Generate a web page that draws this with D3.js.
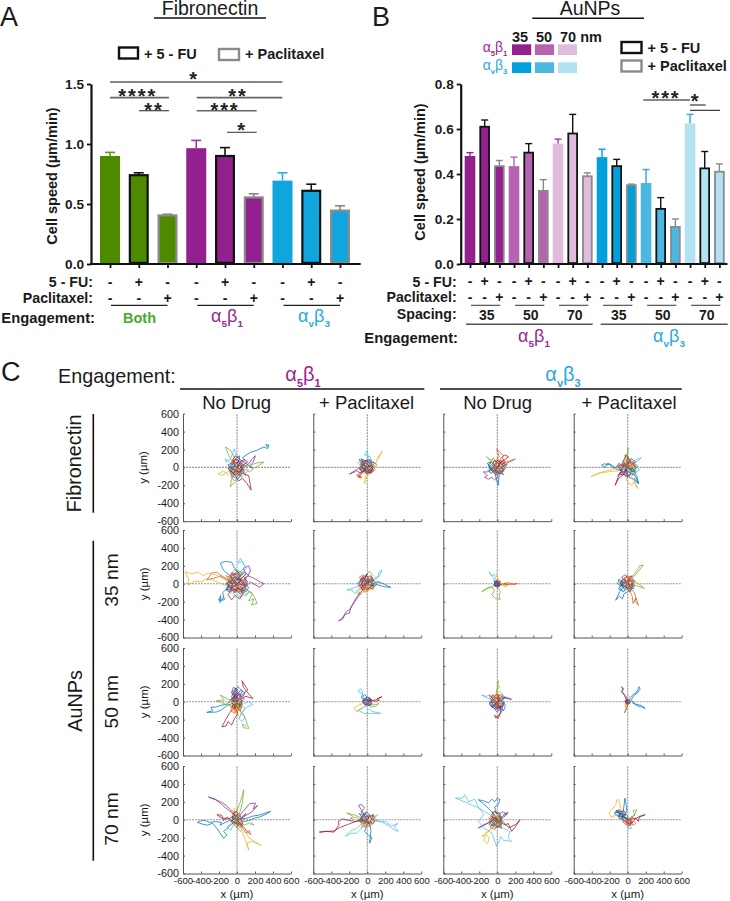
<!DOCTYPE html>
<html><head><meta charset="utf-8">
<script src="https://cdnjs.cloudflare.com/ajax/libs/d3/7.8.5/d3.min.js"></script>
<style>html,body{margin:0;padding:0;background:#fff}svg{display:block}text{font-family:"Liberation Sans",Arial,sans-serif;fill:#1a1a1a}</style>
</head><body><svg id="c" width="730" height="901"></svg>
<script>
// ---------- Panel A ----------
const aValues=[0.90,0.74,0.405,0.965,0.90,0.555,0.695,0.61,0.445];
const aErrTop=[0.93,0.76,0.415,1.03,0.97,0.585,0.76,0.665,0.485];
const aFill=["#4e8a00","#4e8a00","#4e8a00","#92208f","#92208f","#92208f","#10a5dc","#10a5dc","#10a5dc"];
const aErrCol=["#5f9a10","#111","#888","#a8359f","#111","#888","#29b0e2","#111","#888"];
const aTicks=[0,0.5,1,1.5];
// ---------- Panel B ----------
const bValues=[.48,.61,.435,.435,.495,.325,.535,.58,.39,.475,.435,.35,.36,.245,.165,.625,.425,.41];
const bErrTop=[.495,.64,.46,.475,.535,.375,.555,.665,.405,.51,.465,.355,.42,.295,.2,.665,.5,.445];
const bFill=["#92208f","#92208f","#92208f","#b565b0","#b565b0","#b565b0","#e0bcdf","#e0bcdf","#e0bcdf","#00a0dc","#00a0dc","#00a0dc","#4cb8e2","#4cb8e2","#4cb8e2","#b3e2f3","#b3e2f3","#b3e2f3"];
const bErrCtl=["#92208f","#b565b0","#a03aa0","#00a0dc","#2aa9dd","#2aa9dd"];
const bTicks=[0,0.2,0.4,0.6,0.8];
const bSpacing=["35","50","70","35","50","70"];
const fuSigns=["-","+","-"];
const pacSigns=["-","-","+"];
const drugBorder=[null,"#111","#8a8a8a"];
// ---------- Panel C tick labels ----------
const tickVals=[-600,-400,-200,0,200,400,600];
const colNames=["No Drug","+ Paclitaxel","No Drug","+ Paclitaxel"];
const trackColors=["#0072BD","#D95319","#EDB120","#7E2F8E","#77AC30","#4DBEEE","#A2142F"];
const coreColors=["#A2142F","#0072BD","#D95319"];
// ---------- Panel C cell tracks (um); slot order follows trackColors ----------
const fnA5None=[
[0,0,40,30,90,80,60,110,150,170,220,190,300,230,340,210,355,250,320,255,345,225],
[0,0,-30,-20,-60,-40,-100,-10,-70,-60,-30,-90,10,-60,50,-110,20,-40,-20,-70,-50,10],
[0,0,-60,-30,-120,-60,-170,-90,-210,-70,-150,-40,-100,-90,-60,-50,-20,-30,20,-70],
[0,0,40,30,80,10,130,40,170,100,205,130,180,60,150,20,170,-10,120,30,70,70],
[0,0,-50,60,-90,130,-130,230,-70,190,-30,110,-60,40,-20,-50,-60,-130,-75,-216,-20,-160,30,-110],
[0,0,-70,40,-130,100,-120,60,-70,100,-30,210,-10,140,30,90,-10,40,-60,-20],
[0,0,50,-30,90,-80,130,-90,157,-254,110,-180,60,-120,20,-150,-20,-90,-50,-50],
[0,0,-40,50,-10,110,30,130,20,60,-30,20,-80,-20,-60,-90,-10,-120,30,-70,60,-30],
[0,0,60,-20,30,-60,-30,-40,-70,-100,-30,-150,20,-110,60,-60,100,-90,70,-20,20,30],
[0,0,-50,-50,-90,-20,-70,30,-30,70,10,30,50,80,90,40,60,-10,10,-40],
[0,0,30,50,-20,90,-50,50,-100,30,-70,-10,-20,-30,30,-10,70,30,120,60,80,90,30,60],
[0,0,40,-40,90,-20,140,-50,190,-10,300,60,220,50,160,30,100,10,50,40,10,10],
[0,0,-20,-60,30,-90,70,-60,40,-20,90,10,130,-30,90,-70,50,-100,0,-70],
[0,0,20,40,60,70,20,100,-20,130,-50,80,-10,50,30,20,60,-20,20,-50,-30,-20],
];
const fnA5NoneCore=[
[0,0,20,25,-5,50,25,70,0,95,-30,80,-20,45,-55,35,-80,10,-50,-15,-70,-45,-35,-60,-15,-35,15,-50,40,-30,65,-5,40,15],
[0,0,-25,15,-45,-10,-70,15,-95,-5,-75,-35,-50,-55,-25,-85,5,-70,30,-90,55,-65,35,-40,70,-25,50,5,75,30,45,45,15,30],
[0,0,15,-25,-15,-45,10,-65,35,-50,55,-75,80,-50,60,-20,85,5,60,30,35,15,10,40,-20,60,-45,85,-65,55,-40,30],
];
const fnA5Pac=[
[0,0,-30,30,-70,50,-40,80,0,50,30,90,50,40,20,0,60,-20,30,-50,-10,-20],
[0,0,-40,-30,-70,-70,-97,-97,-60,-110,-100,-80,-75,-120,-120,-90,-90,-70,-50,-50,-20,-20,-100,-110,-70,-100],
[0,0,20,-50,-20,-90,-30,-180,-10,-110,30,-70,0,-30,60,-10,90,30,110,100,165,183,120,90],
[0,0,-50,-20,-100,-10,-140,-50,-198,-75,-130,-30,-80,-60,-40,-30,-10,-70,40,-40],
[0,0,40,20,80,0,110,30,70,60,30,40,-10,70,-40,30,-80,40,-50,-10],
[0,0,-20,50,10,110,0,190,-30,140,30,120,50,70,10,40,-40,90,-70,70,-30,20],
[0,0,-50,30,-90,-10,-60,-50,-20,-30,30,-60,70,-30,40,10,-10,40,-60,60],
[0,0,30,50,-10,80,-50,60,-90,90,-60,30,-20,20,20,-30,50,10,80,50,40,70],
[0,0,-40,-50,10,-70,60,-50,90,-20,50,20,0,-20,-40,10,-80,-30,-40,-70],
[0,0,-70,10,-110,50,-60,70,-20,40,20,70,60,30,30,-10],
[0,0,50,40,20,90,-30,70,-70,100,-40,50,-80,10,-40,-20,10,-50,50,-20],
];
const fnA5PacCore=[
[0,0,15,20,-10,40,15,60,-15,75,-40,55,-30,25,-60,15,-45,-15,-20,-5,-30,-35,0,-45,20,-25,45,-40,60,-15,40,10],
[0,0,-20,10,-35,-15,-60,0,-75,-25,-50,-45,-25,-35,-10,-65,15,-50,35,-70,55,-45,40,-20,65,0,45,25,20,15],
[0,0,10,-20,-15,-30,5,-50,30,-35,50,-55,70,-30,50,-5,70,20,45,35,25,15,5,35,-20,50,-45,30],
];
const fnA3None=[
[0,0,30,40,70,20,110,40,80,-10,40,-40,70,-80,20,-60,-20,-30,-50,20,-20,50],
[0,0,-20,70,20,120,-7,205,30,170,70,130,30,90,60,40,100,60,200,93,130,60,80,30],
[0,0,40,-40,10,-90,-40,-60,-10,-20,30,20,70,-20,40,60,0,90],
[0,0,-60,-20,-110,-50,-155,-50,-110,-90,-140,-110,-100,-130,-60,-110,-30,-140,10,-100,-40,-60],
[0,0,-50,40,-90,90,-120,120,-70,80,-40,110,-90,30,-50,-30,-10,-10,30,-60],
[0,0,30,20,60,-40,20,-70,-30,-40,-70,-70,-110,-30,-70,0,-30,40],
[0,0,40,60,90,90,125,120,80,140,50,110,90,60,50,30,20,70,-20,40],
[0,0,-40,-40,-80,-20,-100,30,-60,60,-110,50,-70,-20,-30,-60,10,-200,20,-90,50,-50],
[0,0,50,10,80,60,40,80,0,50,-30,90,-50,50,-20,10,30,-20],
[0,0,-30,30,-70,10,-40,-30,0,-60,40,-30,20,10,60,30,90,-10],
[0,0,-20,-50,30,-70,70,-40,50,0,90,30,60,60,20,40,-10,70],
];
const fnA3NoneCore=[
[0,0,25,15,10,40,35,60,10,85,-15,60,-35,75,-50,45,-25,25,-50,0,-75,-20,-50,-45,-25,-25,0,-50,25,-30,50,-50,70,-20,45,5],
[0,0,-15,20,-40,10,-60,35,-85,15,-70,-15,-95,-40,-65,-60,-40,-35,-15,-60,10,-75,30,-50,15,-25,45,-5,70,20,50,40],
[0,0,20,-20,45,-10,65,15,90,-5,75,-35,50,-55,25,-40,0,-65,-25,-75,-45,-50,-30,-25,-55,-10,-35,20,-10,35],
];
const fnA3Pac=[
[0,0,-50,10,-100,30,-150,-10,-200,30,-260,40,-290,25,-250,0,-220,50,-170,20,-110,-30,-50,-20,20,-60,80,-90,120,-180,70,-120],
[0,0,40,-30,80,20,40,60,0,30,-40,-20,10,-60,50,-40,90,-10,60,40],
[0,0,-60,-30,-140,-40,-220,-50,-300,-60,-410,-105,-340,-70,-280,-50,-200,-30,-120,-10,-60,30,-20,100,-40,140,10,90,40,40,20,-40,-30,-90],
[0,0,50,40,90,60,40,100,20,60,-30,40,10,-20,60,-50,100,0,70,30],
[0,0,20,70,0,130,5,220,-10,140,30,90,60,50,110,20,70,-30,20,-10],
[0,0,50,30,110,70,155,110,100,90,60,60,100,20,130,-30,80,-50,40,-10],
[0,0,-40,-50,-90,-60,-140,-200,-100,-120,-60,-90,-20,-60,20,-100,40,-30,0,30,30,80,-10,100],
[0,0,60,-40,100,-90,120,-180,60,-130,20,-110,-40,-80,-80,-30,-40,20],
[0,0,-30,-60,-80,-30,-40,30,20,-20,60,20,30,70,-20,50,-70,20],
[0,0,30,-80,60,-130,112,-235,70,-160,40,-200,-10,-150,-30,-80,10,-30],
[0,0,-60,40,-110,10,-70,-50,-110,-90,-50,-70,0,-110,-30,-30,20,20],
[0,0,40,50,0,80,-40,60,-20,20,30,-30,60,-70,90,-30,50,10],
[0,0,-20,60,20,90,-10,130,-50,70,-80,20,-40,-30,-10,-70,30,-40,10,20],
];
const fnA3PacCore=[
[0,0,-20,25,5,50,-15,80,5,110,-20,140,-35,95,-55,70,-35,35,-65,15,-90,-10,-65,-35,-85,-70,-55,-85,-35,-55,-10,-40,-25,-10],
[0,0,25,-20,50,-5,70,-30,90,-60,65,-85,40,-65,15,-90,-10,-70,5,-40,-25,-25,-45,-50,-70,-30,-50,-5,-25,15],
[0,0,25,25,50,10,75,35,60,65,35,50,15,75,-10,55,5,30,-25,20,-50,40,-75,25,-95,50,-115,25,-85,0],
];
const b35A5None=[
[0,0,-40,60,-90,100,-150,150,-186,228,-130,250,-60,240,-30,180,10,130,50,90,0,40,-50,-10,-120,-60,-160,-100,-140,-180,-205,-183,-180,-130,-190,-210,-150,-150],
[0,0,-50,10,-110,50,-170,90,-230,70,-335,40,-280,120,-220,130,-170,80,-120,40,-60,60,-20,10,40,-40,70,-100,30,-160],
[0,0,-80,30,-160,60,-240,100,-320,120,-380,90,-430,130,-500,110,-578,135,-540,60,-540,-15,-470,30,-400,20,-330,60,-270,40,-200,10,-120,-20],
[0,0,50,60,100,110,70,170,130,200,150,150,120,90,190,60,240,30,300,0,250,-40,200,-10,150,20,100,-30,50,10],
[0,0,60,-60,100,-120,150,-90,190,-140,224,-220,160,-235,190,-170,130,-190,170,-110,100,-60,40,-90,-10,-40],
[0,0,10,80,50,150,90,190,37,283,10,230,60,250,100,170,40,120,-20,170,-60,100,-10,50,-70,10],
[0,0,20,-60,70,-110,30,-170,-20,-130,-60,-180,-100,-120,-60,-70,-100,-20,-50,30,0,-20],
[0,0,-40,-40,-80,-10,-120,-50,-70,-90,-30,-60,20,-100,60,-50,100,-90,130,-40,80,0,40,50,-10,90,-50,50],
[0,0,60,30,110,70,70,110,20,80,-30,120,-70,70,-120,90,-80,30,-130,0,-70,-40,-20,-20],
[0,0,-20,-70,30,-110,-10,-150,-60,-110,-90,-60,-40,-30,0,-90,40,-50,90,-20,50,20],
[0,0,70,-20,120,20,80,60,130,90,90,130,40,100,0,140,-40,90,0,50],
[0,0,-30,40,-70,0,-110,40,-60,80,-20,60,20,110,-20,150,60,130,30,70,70,30,30,-20],
[0,0,40,-80,90,-40,130,-80,100,-140,50,-110,10,-160,-40,-100,-10,-50,50,-20],
[0,0,-70,-50,-30,-90,20,-50,60,-90,100,-40,60,0,110,40,70,80,20,40,-30,70],
];
const b35A5NoneCore=[
[0,0,30,25,5,55,35,85,5,115,-30,95,-55,125,-80,85,-50,60,-80,30,-110,10,-85,-20,-110,-55,-75,-70,-50,-40,-20,-65,10,-45,40,-70,70,-45,95,-15,65,15],
[0,0,-30,20,-60,-5,-85,25,-115,0,-95,-40,-125,-70,-85,-90,-55,-65,-30,-100,5,-85,35,-110,65,-85,45,-50,85,-35,115,-10,95,30,60,50,30,30],
[0,0,20,-35,-15,-60,15,-90,50,-70,75,-100,105,-70,80,-35,110,0,80,35,50,15,20,50,-15,75,-50,105,-80,70,-55,35,-25,15],
[0,0,-20,-30,15,-50,-10,-80,-45,-60,-70,-35,-40,-10,-75,15,-50,50,-15,30,10,60,40,40,25,5,60,-15,35,-40],
];
const b35A5Pac=[
[0,0,-30,-40,-70,-20,-50,30,-10,60,30,30,60,-20,20,-60,-20,-90,-60,-60],
[0,0,30,-30,70,-10,40,40,0,20,-50,60,-20,-10,20,-60,-40,-70],
[0,0,-40,-40,-80,-70,-120,-100,-70,-120,-30,-60,10,-40,60,-70,90,-20,130,20,90,40,40,10],
[0,0,-50,-60,-90,-130,-140,-200,-180,-260,-200,-330,-250,-340,-290,-400,-320,-414,-270,-390,-240,-320,-190,-280,-130,-170,-80,-90],
[0,0,30,60,60,100,20,140,-10,90,-40,50,20,10,70,40,100,-10,60,-50],
[0,0,-70,-10,-130,-40,-227,-70,-170,-70,-140,-110,-100,-60,-40,-40,50,50,110,60,140,100,164,153,120,120,130,80,80,70],
[0,0,-30,50,0,110,-40,80,-80,30,-40,-10,20,20,60,70,30,90],
[0,0,50,-20,110,-10,170,-30,261,-41,190,-5,130,20,70,10,30,-40],
[0,0,-50,30,-90,70,-50,100,-10,60,30,90,70,50,30,10,-20,-30,-70,-10],
[0,0,20,-70,-30,-100,-70,-60,-100,-20,-60,10,-20,-40,30,-60,60,-20],
[0,0,-40,60,-80,40,-110,0,-70,-40,-30,-20,0,30,40,60,80,30],
];
const b35A5PacCore=[
[0,0,20,20,-5,45,20,70,-10,90,-35,65,-55,80,-70,45,-45,25,-70,-5,-45,-25,-70,-50,-40,-70,-20,-40,5,-60,30,-40,55,-60,70,-30,45,-5],
[0,0,-25,-15,-50,5,-75,-20,-90,10,-60,30,-35,55,-10,30,15,55,40,30,65,45,50,15,75,-10,50,-30,25,-15],
[0,0,15,-30,-10,-55,-35,-35,-60,-55,-85,-30,-60,-10,-35,10,-15,-15,10,5,35,-15,60,5,40,30],
];
const b35A3None=[
[0,0,-20,10,-40,-10,-15,-25,10,-10,30,-30,0,-15,-30,10,-10,30,15,15],
[0,0,30,-10,70,0,120,-10,80,5,140,10,190,-10,224,4,170,-5,110,-15,50,-5,15,-20],
[0,0,20,-20,60,-15,100,-40,60,-5,30,20,10,50,-10,100,5,60,-10,25],
[0,0,-15,25,-30,5,-10,-20,15,10,-5,35,-25,20],
[0,0,-40,-30,-90,-45,-175,-90,-120,-50,-70,-35,-30,-70,-60,-125,-20,-165,30,-175,20,-130,35,-90,10,-50,-10,-20],
[0,0,-20,30,-50,70,-93,134,-60,90,-35,110,-20,60,-40,30,-5,15],
[0,0,15,-15,5,-40,-20,-30,-30,-5,-5,15,20,5,25,-25],
];
const b35A3NoneCore=[
[0,0,10,15,-5,25,-20,15,-35,25,-25,0,-40,-15,-20,-25,-5,-10,15,-25,30,-10,20,10,35,25,10,35],
[0,0,-15,10,-25,-10,-10,-30,10,-35,25,-20,40,-5,20,15,5,30,-15,35,-30,25],
];
const b35A3Pac=[
[0,0,-50,-40,-90,-90,-134,-183,-90,-140,-60,-170,-40,-110,0,-90,40,-50,0,-10,-60,30,-100,50,-110,0,-70,-40],
[0,0,30,-50,70,-90,119,-239,80,-200,90,-160,60,-220,50,-140,20,-80,-20,-40],
[0,0,-40,20,-70,-20,-40,-60,0,-40,40,-80,20,-20,50,20,20,60,-20,40],
[0,0,-30,40,-70,70,-30,100,10,70,50,90,20,40,-20,10,-60,-20,-90,10,-50,50],
[0,0,40,50,80,90,110,130,175,209,130,200,110,160,80,120,40,60,90,20,186,-52,120,-30,60,-10],
[0,0,-50,10,-90,30,-60,-40,-100,-60,-40,-80,-10,-30,30,-50,60,-10,20,30],
[0,0,30,-30,60,10,20,50,-20,20,-50,50,-80,10,-40,-30,10,-50],
[0,0,-30,-30,-70,-10,-100,-50,-50,-90,-10,-60,30,-90,50,-30,20,0],
[0,0,50,-20,80,30,40,70,0,90,-40,60,-10,20,30,-10],
[0,0,-40,50,0,80,40,50,70,0,30,-50,-20,-70,-50,-30],
];
const b35A3PacCore=[
[0,0,20,20,-5,40,20,60,-10,75,-35,55,-25,25,-55,10,-70,-20,-45,-35,-25,-15,-5,-45,20,-30,45,-50,60,-20,35,0],
[0,0,-20,15,-45,-5,-65,20,-85,-5,-60,-30,-35,-55,-10,-35,15,-60,40,-40,60,-60,75,-25,50,5,70,30,40,40],
[0,0,15,-25,-10,-45,15,-65,40,-45,25,-20,50,-5,35,25,10,45,-15,30,-40,50,-60,25,-35,5],
];
const b50A5None=[
[0,0,-50,-20,-110,-40,-170,-90,-230,-115,-335,-119,-270,-100,-290,-60,-240,-60,-180,-40,-120,-30,-60,20,-20,70,10,130,-20,150,-40,90,10,40],
[0,0,-20,60,-60,110,-10,130,30,80,-20,30,-50,-30,-10,-80,40,-40,60,20],
[0,0,-40,-60,-10,-120,30,-180,50,-120,20,-70,-30,-30,-60,20,-20,60],
[0,0,-30,50,-60,100,-40,160,0,140,-30,90,10,50,-30,10,20,-20],
[0,0,-50,10,-100,30,-186,75,-140,20,-230,10,-170,-10,-120,-30,-60,-50,0,-20,40,-110,90,-180,130,-298,70,-290,60,-250,100,-270],
[0,0,40,-40,90,-70,60,-120,90,-170,60,-220,20,-190,50,-120,110,-60,175,-30,130,0,80,-20],
[0,0,-30,-70,-80,-120,-120,-190,-168,-280,-120,-270,-100,-220,-60,-260,-30,-190,10,-130,-30,-50,20,20,70,90,120,130,56,235,70,160,120,100,175,37,100,60,40,30],
[0,0,30,60,60,120,10,170,-30,120,-60,60,-30,0,20,-50,60,-10],
[0,0,-50,-40,-70,-100,-20,-130,20,-90,-20,-40,40,-20,80,30,40,70],
[0,0,20,-70,-20,-120,-60,-70,-100,-30,-50,20,-10,-30,30,-80,60,-30],
[0,0,-30,40,20,80,60,50,90,100,40,130,0,80,-50,50,-80,10],
[0,0,30,-60,-10,-100,-50,-60,-20,-20,30,10,60,-30,30,-90],
];
const b50A5NoneCore=[
[0,0,15,25,-10,50,15,75,-5,105,-30,85,-20,55,-50,45,-35,15,-60,-10,-40,-35,-60,-60,-30,-75,-10,-50,15,-70,35,-45,25,-15,50,10,30,35],
[0,0,-20,20,-40,0,-55,30,-30,50,-10,80,20,100,45,80,30,50,55,30,40,0,60,-25,35,-45,10,-25,-15,-50,-35,-25],
[0,0,10,-30,-15,-60,-35,-90,-10,-110,15,-85,35,-105,50,-70,30,-40,55,-15,25,10,0,35,-25,20,-45,45,-65,15],
];
const b50A5Pac=[
[0,0,-40,20,-70,50,-30,80,10,40,50,20,20,-10,-30,-30],
[0,0,30,20,60,-20,20,-40,-20,-20,-50,10,-20,40,30,50],
[0,0,-50,-20,-100,-40,-150,-70,-120,-110,-90,-90,-115,-112,-60,-80,-20,-40,30,-30],
[0,0,-20,30,-50,-10,-20,-40,20,-20,40,30,0,50,-40,30],
[0,0,40,-40,90,-30,130,-20,90,-50,40,-60,0,-30],
[0,0,-40,50,-70,100,-100,110,-97,130,-70,145,-50,100,-60,60,-30,25,20,-30,-40,-60,-100,-95,-40,-130,50,-130,150,-130,60,-110,10,-80],
[0,0,40,10,90,20,130,40,164,56,110,35,135,15,80,5,40,25,-10,15],
];
const b50A5PacCore=[
[0,0,15,15,-5,30,-25,15,-40,30,-55,5,-30,-15,-15,-35,10,-20,30,-35,45,-10,25,15,45,30],
[0,0,-15,-15,-35,-5,-45,20,-20,35,5,20,25,40,40,15,25,-10,45,-25,20,-45,-5,-30],
];
const b50A3None=[
[0,0,-30,-30,-60,-60,-20,-80,20,-50,50,-70,70,-20,30,10,-10,-20,-50,10,-20,50,30,30],
[0,0,40,10,70,-30,30,-60,-10,-30,-40,10,0,40,30,10],
[0,0,-40,30,-70,0,-40,-50,-10,-20,30,-40,60,0,20,30,-10,60],
[0,0,50,30,100,50,160,26,90,40,50,60,10,30,-40,50,-70,20,-30,-20,-60,-60,-20,-30],
[0,0,10,50,-5,110,11,235,0,190,25,170,-10,120,20,60,-30,30,-60,-20],
[0,0,-50,20,-110,40,-175,75,-120,60,-80,80,-50,30,-90,-10,-40,-40,10,-10],
[0,0,20,-50,40,-100,11,-186,-30,-150,-20,-180,30,-140,60,-90,10,-60,-20,-20,30,30],
[0,0,-40,-40,0,-90,40,-60,70,-100,90,-40,50,20,90,50,40,80,-10,50],
[0,0,30,40,-10,70,-50,50,-90,70,-60,10,-90,-30,-50,-60,-10,-30],
[0,0,-60,-10,-20,40,20,80,-20,100,40,110,70,60,30,20],
[0,0,50,-30,20,-70,-30,-70,-10,-110,40,-90,20,-40,-20,-10],
];
const b50A3NoneCore=[
[0,0,20,20,0,45,25,65,-5,85,-30,65,-50,80,-65,45,-40,25,-70,5,-50,-20,-75,-45,-45,-65,-20,-40,5,-65,30,-45,55,-65,70,-30,45,-5],
[0,0,-25,10,-45,-15,-70,5,-85,-25,-60,-50,-30,-30,-10,-60,15,-85,40,-60,60,-40,80,-10,55,15,75,40,45,50,20,30],
[0,0,15,-25,-10,-40,15,-60,35,-35,20,-10,45,15,25,40,0,25,-20,50,-45,30,-30,5],
];
const b50A3Pac=[
[0,0,20,30,40,60,70,90,100,100,125,168,138,140,110,100,60,60,40,20,80,-30,120,-50,160,-60,194,-75,150,-40,100,-30,50,-10],
[0,0,-10,-25,-25,-50,-15,-80,-37,-123,-20,-90,-5,-60,5,-25],
[0,0,20,20,30,50,5,70,-15,40,-25,-10,-30,-40,-10,-70,-20,-30,10,-15],
[0,0,-20,30,-35,70,-67,105,-50,130,-67,168,-45,145,-70,125,-40,85,-15,50,0,15],
[0,0,15,15,-5,30,-20,10,-5,-15,15,-5],
[0,0,-15,-10,-25,10,-5,25,15,10],
[0,0,10,-10,-10,-20,-20,0,5,10],
];
const b50A3PacCore=[
[0,0,8,12,-5,20,-15,8,-25,18,-30,-5,-15,-15,0,-25,12,-12,25,-20,28,5,15,15],
[0,0,-10,-8,-20,-18,-5,-30,12,-22,20,-5,30,10,15,22,-3,28,-15,25],
];
const b70A5None=[
[0,0,-40,-20,-80,-10,-130,-30,-190,-60,-170,-30,-240,-20,-300,-30,-350,-10,-400,-10,-440,-30,-380,-50,-330,-60,-270,-40,-220,-100,-150,-205,-110,-170,-150,-130,-90,-80,-40,-30],
[0,0,-20,30,10,70,-30,100,-50,50,-20,0,20,-50,-10,-90,30,-60],
[0,0,20,-50,50,-110,130,-335,110,-260,170,-240,268,-287,190,-240,130,-200,90,-100,40,-60],
[0,0,-30,60,-70,110,-120,160,-180,200,-317,254,-240,230,-170,170,-110,120,-60,80,-20,40],
[0,0,20,50,40,110,60,190,75,335,50,240,30,180,0,110,-20,50,30,-30,80,-60,130,-40,190,-60,150,-20],
[0,0,30,-40,70,-80,40,-130,0,-90,-40,-50,-70,-120,-110,-80,-60,-30],
[0,0,-50,30,-100,10,-170,20,-224,56,-170,50,-150,-10,-110,30,-60,-10,-10,-40,50,20,100,70,60,30],
[0,0,60,10,120,20,170,40,240,50,300,70,373,93,320,60,250,30,200,20,130,-10,70,-20],
[0,0,40,-50,80,-90,150,-167,140,-120,100,-150,70,-100,30,-60,-10,-30],
[0,0,-20,60,-60,90,-30,130,10,100,-30,60,-70,30,-30,-10,20,30],
[0,0,40,60,90,120,140,180,205,186,180,120,230,160,170,90,100,50,40,10],
[0,0,-30,-60,10,-100,50,-70,20,-20,-30,-50,-60,-10,-20,40],
];
const b70A5NoneCore=[
[0,0,15,25,-10,45,15,70,-10,95,-35,75,-25,45,-55,30,-40,0,-65,-20,-40,-45,-15,-25,5,-55,30,-35,50,-60,65,-25,40,0],
[0,0,-20,15,-45,0,-55,30,-30,50,-5,35,15,60,40,45,30,15,55,-10,30,-30,10,-15,-15,-40,-35,-15],
[0,0,10,-25,-15,-45,5,-70,30,-55,50,-80,70,-50,50,-20,75,5,50,30,25,15,0,35],
];
const b70A5Pac=[
[0,0,30,-60,40,-120,26,-261,50,-200,10,-170,-30,-130,-10,-70,30,-30],
[0,0,-30,20,-70,-10,-40,-50,0,-30,50,-20,90,30,50,50,0,30],
[0,0,40,20,80,40,119,56,70,10,110,-10,50,-30,10,-10],
[0,0,-30,50,-60,100,-97,160,-60,170,-30,130,-70,90,-40,50,-10,80,-50,20],
[0,0,-70,20,-130,50,-227,75,-160,40,-190,10,-120,30,-70,-10,-30,-40],
[0,0,-60,-40,-120,-100,-180,-120,-246,-186,-180,-150,-120,-150,-60,-90,60,-10,130,-20,200,-20,270,-70,343,-40,300,-70,343,-130,290,-110,230,-60,150,-20,70,10],
[0,0,-60,-10,-120,-20,-190,-10,-280,10,-320,-19,-315,-60,-370,-138,-450,-130,-533,-138,-450,-130,-370,-125,-310,-90,-210,-50,-130,-20,-60,10],
[0,0,30,50,-10,90,-50,50,-90,70,-50,10,-20,-30,30,-50],
[0,0,-40,-50,-90,-20,-60,30,-20,60,30,30,70,60,40,0],
[0,0,50,-30,20,-80,-30,-60,-70,-90,-60,-40,-20,-10],
];
const b70A5PacCore=[
[0,0,20,20,-5,40,-30,25,-50,45,-75,20,-50,-5,-30,-30,-5,-15,15,-40,40,-25,60,-50,80,-20,60,10,35,25],
[0,0,-20,-20,-45,-5,-70,-30,-90,0,-60,25,-35,50,-10,30,15,55,40,35,60,55,75,25,50,0,25,-20],
[0,0,15,-30,-10,-55,-35,-40,-55,-65,-25,-80,0,-60,25,-75,45,-50,25,-20,50,5],
];
const b70A3None=[
[0,0,-30,50,-70,100,-120,150,-212,224,-150,210,-100,190,-60,230,-30,200,0,240,30,224,10,170,-30,140,-10,80,20,40,-20,-20],
[0,0,-30,-30,-60,-10,-40,-70,0,-50,30,-90,50,-30,10,-10],
[0,0,-30,-70,-70,-100,-110,-130,-175,-186,-130,-170,-150,-230,-108,-268,-90,-200,-130,-160,-60,-100,-20,-40],
[0,0,-50,-10,-110,-40,-160,-70,-212,-93,-160,-60,-90,-30,-40,20,10,-20],
[0,0,-20,-60,30,-90,50,-40,10,10,-40,30,-80,0,-40,-40],
[0,0,-70,50,-140,90,-200,130,-280,160,-340,190,-466,242,-390,240,-360,280,-320,200,-250,230,-210,140,-150,60,-210,-20,-150,-90,-60,-150,-7,-298,40,-190,70,-230,160,-242,120,-200,140,-130,60,-90],
[0,0,40,-30,90,-60,120,-40,160,-130,200,-80,253,0,210,-50,130,-90,70,-30,30,20,120,80,70,60],
[0,0,60,20,110,60,60,90,20,60,-30,90,-70,50,-30,10],
[0,0,-40,-40,-80,-80,-30,-110,10,-70,50,-100,40,-40,0,-10],
[0,0,30,40,-10,70,-60,50,-100,20,-50,-20,0,-50,40,-20],
[0,0,-50,30,-90,-20,-60,-60,-20,-90,30,-50,-10,-10],
[0,0,20,-40,-20,-70,-60,-40,-40,10,10,30,50,-10,30,-60],
];
const b70A3NoneCore=[
[0,0,-15,25,-40,10,-60,35,-35,55,-55,80,-25,95,-5,65,15,85,35,60,20,30,45,10,30,-20,5,-40,-20,-20,-45,-40],
[0,0,-25,-15,-50,0,-70,-25,-90,-55,-60,-70,-35,-45,-15,-70,10,-85,30,-55,50,-30,30,-5,55,20,35,45],
[0,0,10,-25,-15,-50,-40,-30,-60,-5,-85,15,-60,40,-35,20,-20,45,5,30,25,50,45,25,25,5],
];
const b70A3Pac=[
[0,0,-50,40,-90,90,-140,80,-120,110,-80,60,-110,40,-70,90,-30,60,-60,20,-30,242,-20,180,-10,100,-40,30],
[0,0,-30,-20,-60,-10,-40,-40,-10,-60,20,-30,50,-50,30,-10],
[0,0,-30,50,-70,100,-100,224,-123,220,-130,170,-170,120,-209,75,-180,30,-130,50,-90,20,-40,-10],
[0,0,-20,-30,10,-50,40,-20,10,20,-30,10],
[0,0,40,30,80,60,100,112,60,100,80,50,30,20,-10,-30],
[0,0,20,-50,-10,-90,40,-100,30,-50,60,-30,20,10],
[0,0,50,10,100,20,140,40,194,56,130,30,120,-20,90,20,60,-20,20,-50,-10,-20],
[0,0,-60,30,-110,50,-150,70,-110,90,-60,60,-100,20,-50,0],
[0,0,-30,-30,10,-70,50,-40,30,10,-20,-40],
];
const b70A3PacCore=[
[0,0,-20,20,-45,35,-70,60,-100,70,-125,95,-95,115,-70,85,-45,105,-25,70,-50,45,-75,25,-50,0,-25,-15],
[0,0,-25,25,-55,15,-80,45,-105,35,-85,65,-110,85,-80,100,-55,75,-40,50,-15,60,5,30,-15,10],
[0,0,25,-15,45,-35,65,-15,90,-40,65,-60,40,-45,20,-70,-5,-50,15,-25,40,5,60,25,35,30],
];
const panelTracks=[
 [fnA5None,fnA5Pac,fnA3None,fnA3Pac],
 [b35A5None,b35A5Pac,b35A3None,b35A3Pac],
 [b50A5None,b50A5Pac,b50A3None,b50A3Pac],
 [b70A5None,b70A5Pac,b70A3None,b70A3Pac]];
const panelCores=[
 [fnA5NoneCore,fnA5PacCore,fnA3NoneCore,fnA3PacCore],
 [b35A5NoneCore,b35A5PacCore,b35A3NoneCore,b35A3PacCore],
 [b50A5NoneCore,b50A5PacCore,b50A3NoneCore,b50A3PacCore],
 [b70A5NoneCore,b70A5PacCore,b70A3NoneCore,b70A3PacCore]];
const rowTop=[413.7,530,648,766];
const colLeft=[183,313.3,443.3,573.7];

// ---------- drawing ----------
const svg=d3.select("#c");
const BOLD=700;
function T(x,y,s,o={}){const t=svg.append("text").attr("x",x).attr("y",y).text(s)
 .attr("font-size",o.size||14).attr("font-weight",o.w||400).attr("text-anchor",o.a||"start");
 if(o.c)t.style("fill",o.c); if(o.r!=null)t.attr("transform",`rotate(${o.r} ${x} ${y})`); return t;}
function L(x1,y1,x2,y2,c="#111",w=1.5){svg.append("line").attr("x1",x1).attr("y1",y1).attr("x2",x2).attr("y2",y2).attr("stroke",c).attr("stroke-width",w);}
function Stars(cx,cy,n){T(cx,cy+11,"*".repeat(n),{size:20,w:BOLD,a:"middle",c:"#222"}).attr("letter-spacing",1.9);}
function Integrin(cx,y,a,b,c,size=18){
 const t=svg.append("text").attr("x",cx).attr("y",y).attr("text-anchor","middle").style("fill",c).attr("font-size",size);
 const s=size*0.55;
 t.append("tspan").text("α");
 t.append("tspan").text(a).attr("font-size",s).attr("font-weight",BOLD).attr("dy",size*0.28);
 t.append("tspan").text("β").attr("dy",-size*0.28);
 t.append("tspan").text(b).attr("font-size",s).attr("font-weight",BOLD).attr("dy",size*0.28);
}
const LET={size:27};
T(0,26,"A",LET);T(372,26,"B",LET);T(1,381,"C",LET);
T(210,15,"Fibronectin",{size:19.5,a:"middle"});L(154,18,266,18,"#111",1.5);
T(590,15,"AuNPs",{size:19.5,a:"middle"});L(532.3,18.3,644,18.3,"#111",1.5);

function boxLegend(x,y,w,h,c,tx,ty,s){
 svg.append("rect").attr("x",x).attr("y",y).attr("width",w).attr("height",h).attr("fill","none").attr("stroke",c).attr("stroke-width",2.4);
 T(tx,ty,s,{size:14.5,w:BOLD});
}
boxLegend(119,47.5,19,11,"#111",144,58.5,"+ 5 - FU");
boxLegend(219,49,20,11,"#8a8a8a",245,59,"+ Paclitaxel");
boxLegend(621.5,42,20,11,"#111",647.5,53,"+ 5 - FU");
boxLegend(621.5,60.5,20,11,"#8a8a8a",647.5,71,"+ Paclitaxel");

function barChart(cfg){
 const y=d3.scaleLinear().domain([0,cfg.max]).range([264,84]);
 const x=d3.scalePoint().domain(d3.range(cfg.values.length)).range(cfg.xr);
 cfg.values.forEach((v,i)=>{
  const b=drugBorder[i%3],cx=x(i),top=y(cfg.top[i]);
  const ec=cfg.ec(i);
  svg.append("line").attr("x1",cx).attr("x2",cx).attr("y1",y(v)).attr("y2",top).attr("stroke",ec).attr("stroke-width",cfg.ew);
  svg.append("line").attr("x1",cx-cfg.cap/2).attr("x2",cx+cfg.cap/2).attr("y1",top).attr("y2",top).attr("stroke",ec).attr("stroke-width",cfg.ew);
  const w=b?cfg.bw-cfg.sw:cfg.bw, off=b?cfg.sw/2:0;
  svg.append("rect").attr("x",cx-cfg.bw/2+off).attr("y",y(v)).attr("width",w).attr("height",264-y(v)-(b?cfg.sw/2:0))
   .attr("fill",cfg.fill[i]).attr("stroke",b||"none").attr("stroke-width",b?cfg.sw:0);
 });
 const ga=svg.append("g").attr("transform",`translate(${cfg.ax},0)`).call(d3.axisLeft(y).tickValues(cfg.ticks).tickFormat(cfg.fmt).tickSize(4).tickPadding(3).tickSizeOuter(0));
 const gx=svg.append("g").attr("transform","translate(0,264)").call(d3.axisBottom(x).tickSize(4).tickFormat("").tickSizeOuter(0));
 gx.select(".domain").remove();
 L(cfg.ax-1,264,cfg.xEnd,264,"#111",2.2);
 ga.select(".domain").attr("stroke","#111").attr("stroke-width",2.2);
 ga.selectAll(".tick line").attr("stroke","#111").attr("stroke-width",1.8);
 gx.selectAll(".tick line").attr("stroke","#111").attr("stroke-width",1.8);
 ga.selectAll("text").attr("font-size",13.6).attr("font-weight",BOLD).attr("font-family",null);
 return x;
}
const xA=barChart({values:aValues,top:aErrTop,fill:aFill,ec:i=>aErrCol[i],xr:[110,340],max:1.5,ticks:aTicks,ax:91,xEnd:360.7,
 bw:20,cap:10,ew:1.6,sw:2.2,fmt:d3.format(".1f")});
const xB=barChart({values:bValues,top:bErrTop,fill:bFill,ec:i=>i%3==0?bErrCtl[i/3]:(i%3==1?"#111":"#8a8a8a"),xr:[470,719.4],max:0.8,ticks:bTicks,ax:460.7,xEnd:727.5,
 bw:10.6,cap:7,ew:1.4,sw:1.8,fmt:d3.format(".1f")});

T(57,176,"Cell speed (µm/min)",{size:14.5,w:BOLD,a:"middle",r:-90});
T(424.5,172,"Cell speed (µm/min)",{size:14.5,w:BOLD,a:"middle",r:-90});

function signs(x,n,y1,y2){d3.range(n).forEach(i=>{
 T(x(i),y1,fuSigns[i%3],{size:14,w:BOLD,a:"middle"});
 T(x(i),y2,pacSigns[i%3],{size:14,w:BOLD,a:"middle"});});}
signs(xA,9,287,302.5);signs(xB,18,286,301.5);
const RB={size:14.2,w:BOLD,a:"end"};
T(93,287,"5 - FU:",RB);T(93,303,"Paclitaxel:",RB);T(95,323,"Engagement:",{...RB,size:14.8});
T(456.7,287,"5 - FU:",RB);T(456.7,302,"Paclitaxel:",RB);T(456.7,319,"Spacing:",RB);T(458,343,"Engagement:",{...RB,size:14.8});
[0,3,6].forEach(i=>L(xA(i)+1,305.3,xA(i+2),305.3,"#222",1.3));
d3.range(6).forEach(k=>{const i=k*3;L(xB(i)+1,305.3,xB(i+2)+1,305.3,"#444",1.1);
 T((xB(i)+xB(i+2))/2+2,320,bSpacing[k],{size:14,w:BOLD,a:"middle"});});
L(466,324.3,592.7,324.3,"#555",1.4);L(600.7,324.3,727.7,324.3,"#555",1.4);
T(139.5,323,"Both",{size:14.5,w:BOLD,a:"middle",c:"#4ca82e"});
const PUR="#9a2a8f",BLU="#29a9e0";
Integrin(227,322,"5","1",PUR);Integrin(314,322,"v","3",BLU);
Integrin(534,342,"5","1",PUR);Integrin(669,342,"v","3",BLU);

L(110,82,282.3,82,"#111",1.1);Stars(194,75,1);
L(110,97.7,169,97.7,"#666",1.8);Stars(137.7,91.5,4);
L(196.7,97.7,282.3,97.7,"#666",1.8);Stars(238,91.5,2);
L(139,110.7,169,110.7,"#444",1.2);Stars(154,106,2);
L(196.7,110.7,256.7,110.7,"#666",1.5);Stars(225,106,3);
L(227,132.3,256.7,132.3,"#444",1.1);Stars(242,126,1);
L(643.3,100,690,100,"#111",1);Stars(666,94,3);Stars(695.7,97,1);
L(690,105,705.7,105,"#111",1);L(690,110.3,720,110.3,"#111",1);

T(520,41.5,"35",{size:14.5,w:BOLD,a:"middle"});T(544,41.5,"50",{size:14.5,w:BOLD,a:"middle"});T(560,41.5,"70 nm",{size:14.5,w:BOLD});
[bFill[0],bFill[3],bFill[6]].forEach((c,i)=>svg.append("rect").attr("x",512+i*22.9).attr("y",44.3).attr("width",19.2).attr("height",10.7).attr("fill",c));
[bFill[9],bFill[12],bFill[15]].forEach((c,i)=>svg.append("rect").attr("x",512+i*22.9).attr("y",62.3).attr("width",19.2).attr("height",10.7).attr("fill",c));
Integrin(495,52,"5","1",PUR,14);Integrin(495,70,"v","3",BLU,14);

T(58,383.3,"Engagement:",{size:19.8});
L(180,389,424.3,389,"#111",1.6);L(440,389,681.7,389,"#111",1.6);
Integrin(303,381,"5","1",PUR,20);Integrin(563,381,"v","3",BLU,20);
colNames.forEach((s,i)=>T([236.7,366.5,497.7,629][i],409.3,s,{size:18.5,a:"middle"}));
T(81.5,463.3,"Fibronectin",{size:19.8,a:"middle",r:-90});
T(81.5,701,"AuNPs",{size:19.8,a:"middle",r:-90});
T(118.3,580,"35 nm",{size:19.2,a:"middle",r:-90});
T(118.3,701.7,"50 nm",{size:19.2,a:"middle",r:-90});
T(118.3,819,"70 nm",{size:19.2,a:"middle",r:-90});
L(93.3,414,93.3,512.7,"#111",1.6);L(93.3,540.7,93.3,860.7,"#111",1.6);

const W=108,H=107.5;
const line=d3.line();
panelTracks.forEach((row,r)=>row.forEach((tracks,c)=>{
 const g=svg.append("g").attr("transform",`translate(${colLeft[c]},${rowTop[r]})`);
 const x=d3.scaleLinear().domain([-600,600]).range([0,W]);
 const y=d3.scaleLinear().domain([-600,600]).range([H,0]);
 g.append("line").attr("x1",x(-600)).attr("x2",x(600)).attr("y1",y(0)).attr("y2",y(0)).attr("stroke","#999").attr("stroke-width",1.2).attr("stroke-dasharray","2 1");
 g.append("line").attr("x1",x(0)).attr("x2",x(0)).attr("y1",y(-600)).attr("y2",y(600)).attr("stroke","#999").attr("stroke-width",1.2).attr("stroke-dasharray","2 1");
 const draw=(t,col)=>{
  const pts=d3.pairs(t).filter((_,k)=>k%2==0).map(([a,b])=>[x(a),y(b)]);
  g.append("path").attr("d",line(pts)).attr("fill","none").attr("stroke",col).attr("stroke-width",0.75);
 };
 tracks.forEach((t,i)=>draw(t,trackColors[i%7]));
 panelCores[r][c].forEach((t,i)=>draw(t,coreColors[i%3]));
 const ax=g.append("g").attr("transform",`translate(0,${H})`).call(d3.axisBottom(x).tickValues(tickVals).tickSize(-2).tickPadding(4).tickSizeOuter(0).tickFormat(r==3?(d=>d):""));
 const ay=g.append("g").call(d3.axisLeft(y).tickValues(tickVals).tickSize(-2).tickPadding(4).tickSizeOuter(0).tickFormat(c==0?(d=>d):""));
 [ax,ay].forEach(a=>{a.select(".domain").attr("stroke","#555").attr("stroke-width",1);
  a.selectAll(".tick line").attr("stroke","#555");
  a.selectAll("text").attr("font-family",null);});
 ax.selectAll("text").attr("font-size",9.5);
 ay.selectAll("text").attr("font-size",10.8);
 if(c==0)T(147.5,rowTop[r]+H/2,"y (µm)",{size:11.5,a:"middle",r:-90});
 if(r==3)T(colLeft[c]+W/2,898,"x (µm)",{size:11.5,a:"middle"});
}));
</script></body></html>
